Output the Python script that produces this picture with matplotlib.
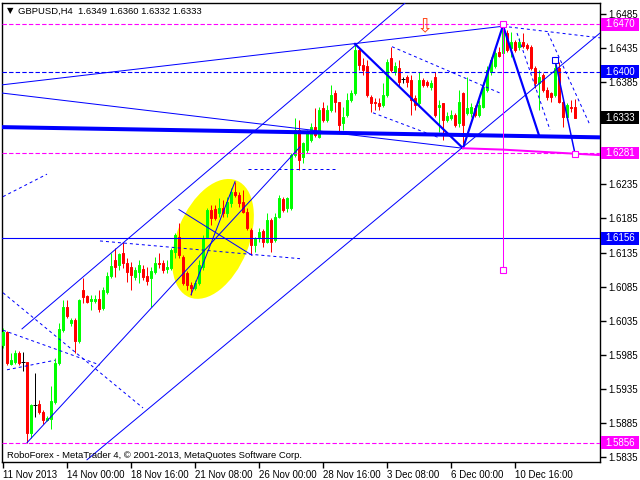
import numpy as np
import matplotlib.pyplot as plt
from matplotlib import transforms
from matplotlib.patches import Ellipse, Rectangle

plt.rcParams['font.family'] = ['Liberation Sans', 'DejaVu Sans']

# GBPUSD H4 bars, 11 Nov 2013 08:00 .. 11 Dec 2013
opens = [1.5999, 1.6019, 1.5972, 1.5974, 1.5988, 1.5974, 1.5974, 1.5870, 1.5911, 1.5913,
         1.5901, 1.5889, 1.5891, 1.5916, 1.5973, 1.6021, 1.6055, 1.6032, 1.6036, 1.6005,
         1.6080, 1.6071, 1.6064, 1.6064, 1.6067, 1.6054, 1.6077, 1.6101, 1.6124, 1.6117,
         1.6134, 1.6120, 1.6114, 1.6099, 1.6106, 1.6111, 1.6101, 1.6098, 1.6106, 1.6120,
         1.6120, 1.6111, 1.6112, 1.6136, 1.6158, 1.6128, 1.6105, 1.6087, 1.6083, 1.6090,
         1.6114, 1.6158, 1.6197, 1.6199, 1.6193, 1.6200, 1.6193, 1.6208, 1.6224, 1.6220,
         1.6209, 1.6195, 1.6168, 1.6146, 1.6158, 1.6167, 1.6150, 1.6183, 1.6153, 1.6187,
         1.6214, 1.6200, 1.6200, 1.6278, 1.6315, 1.6275, 1.6285, 1.6300, 1.6319, 1.6304,
         1.6347, 1.6329, 1.6344, 1.6369, 1.6356, 1.6325, 1.6337, 1.6359, 1.6369, 1.6432,
         1.6410, 1.6408, 1.6363, 1.6356, 1.6354, 1.6351, 1.6366, 1.6420, 1.6400, 1.6406,
         1.6390, 1.6393, 1.6388, 1.6362, 1.6354, 1.6388, 1.6385, 1.6378, 1.6393, 1.6349,
         1.6354, 1.6329, 1.6332, 1.6337, 1.6325, 1.6369, 1.6340, 1.6340, 1.6347, 1.6337,
         1.6349, 1.6374, 1.6400, 1.6409, 1.6429, 1.6428, 1.6457, 1.6435, 1.6444, 1.6437,
         1.6444, 1.6440, 1.6437, 1.6406, 1.6384, 1.6396, 1.6374, 1.6369, 1.6366, 1.6406,
         1.6356, 1.6334, 1.6349, 1.6349]
highs = [1.6024, 1.6020, 1.5988, 1.5992, 1.5991, 1.5989, 1.5975, 1.5913, 1.5958, 1.5919,
         1.5904, 1.5895, 1.5939, 1.5980, 1.6032, 1.6065, 1.6065, 1.6039, 1.6039, 1.6067,
         1.6098, 1.6073, 1.6073, 1.6073, 1.6080, 1.6085, 1.6106, 1.6134, 1.6142, 1.6134,
         1.6150, 1.6127, 1.6121, 1.6114, 1.6124, 1.6117, 1.6114, 1.6114, 1.6128, 1.6134,
         1.6124, 1.6124, 1.6142, 1.6164, 1.6178, 1.6131, 1.6108, 1.6092, 1.6095, 1.6124,
         1.6161, 1.6200, 1.6205, 1.6205, 1.6215, 1.6212, 1.6217, 1.6230, 1.6239, 1.6224,
         1.6227, 1.6200, 1.6171, 1.6158, 1.6171, 1.6170, 1.6193, 1.6186, 1.6193, 1.6220,
         1.6217, 1.6217, 1.6281, 1.6332, 1.6329, 1.6297, 1.6315, 1.6325, 1.6347, 1.6349,
         1.6356, 1.6351, 1.6381, 1.6374, 1.6356, 1.6349, 1.6369, 1.6374, 1.6442, 1.6435,
         1.6420, 1.6418, 1.6366, 1.6362, 1.6362, 1.6384, 1.6419, 1.6437, 1.6415, 1.6418,
         1.6393, 1.6396, 1.6396, 1.6366, 1.6400, 1.6391, 1.6388, 1.6388, 1.6400, 1.6359,
         1.6354, 1.6341, 1.6344, 1.6340, 1.6374, 1.6371, 1.6393, 1.6354, 1.6351, 1.6359,
         1.6385, 1.6408, 1.6422, 1.6432, 1.6437, 1.6470, 1.6462, 1.6459, 1.6447, 1.6450,
         1.6457, 1.6442, 1.6440, 1.6409, 1.6403, 1.6398, 1.6378, 1.6371, 1.6415, 1.6415,
         1.6359, 1.6354, 1.6359, 1.6360]
lows = [1.5995, 1.5970, 1.5970, 1.5972, 1.5970, 1.5961, 1.5856, 1.5863, 1.5894, 1.5898,
        1.5883, 1.5888, 1.5876, 1.5913, 1.5970, 1.6019, 1.6039, 1.6027, 1.5988, 1.6002,
        1.6061, 1.6061, 1.6051, 1.6061, 1.6048, 1.6051, 1.6074, 1.6098, 1.6099, 1.6109,
        1.6112, 1.6092, 1.6080, 1.6095, 1.6090, 1.6095, 1.6087, 1.6055, 1.6104, 1.6112,
        1.6105, 1.6105, 1.6109, 1.6127, 1.6127, 1.6087, 1.6080, 1.6073, 1.6080, 1.6087,
        1.6109, 1.6156, 1.6175, 1.6183, 1.6187, 1.6187, 1.6187, 1.6202, 1.6217, 1.6202,
        1.6193, 1.6168, 1.6131, 1.6136, 1.6150, 1.6143, 1.6149, 1.6136, 1.6150, 1.6186,
        1.6195, 1.6195, 1.6197, 1.6275, 1.6256, 1.6266, 1.6281, 1.6297, 1.6304, 1.6303,
        1.6327, 1.6327, 1.6341, 1.6341, 1.6312, 1.6315, 1.6334, 1.6356, 1.6366, 1.6403,
        1.6396, 1.6363, 1.6341, 1.6344, 1.6344, 1.6349, 1.6363, 1.6400, 1.6396, 1.6378,
        1.6384, 1.6378, 1.6337, 1.6344, 1.6349, 1.6378, 1.6378, 1.6374, 1.6334, 1.6312,
        1.6300, 1.6327, 1.6329, 1.6319, 1.6319, 1.6288, 1.6337, 1.6334, 1.6334, 1.6334,
        1.6347, 1.6371, 1.6396, 1.6406, 1.6422, 1.6425, 1.6429, 1.6422, 1.6429, 1.6432,
        1.6435, 1.6432, 1.6403, 1.6377, 1.6344, 1.6371, 1.6359, 1.6356, 1.6363, 1.6354,
        1.6319, 1.6329, 1.6341, 1.6332]
closes = [1.6019, 1.5973, 1.5977, 1.5988, 1.5973, 1.5974, 1.5870, 1.5911, 1.5911, 1.5901,
          1.5889, 1.5892, 1.5917, 1.5973, 1.6023, 1.6055, 1.6042, 1.6036, 1.6005, 1.6065,
          1.6070, 1.6062, 1.6067, 1.6067, 1.6052, 1.6080, 1.6101, 1.6115, 1.6114, 1.6133,
          1.6120, 1.6106, 1.6102, 1.6109, 1.6117, 1.6099, 1.6093, 1.6108, 1.6120, 1.6118,
          1.6109, 1.6114, 1.6139, 1.6161, 1.6131, 1.6090, 1.6087, 1.6083, 1.6090, 1.6117,
          1.6156, 1.6197, 1.6186, 1.6186, 1.6200, 1.6193, 1.6209, 1.6224, 1.6220, 1.6208,
          1.6195, 1.6171, 1.6146, 1.6156, 1.6165, 1.6150, 1.6183, 1.6150, 1.6187, 1.6215,
          1.6197, 1.6215, 1.6278, 1.6315, 1.6271, 1.6296, 1.6310, 1.6319, 1.6307, 1.6344,
          1.6329, 1.6344, 1.6366, 1.6356, 1.6322, 1.6334, 1.6359, 1.6369, 1.6432, 1.6410,
          1.6403, 1.6366, 1.6354, 1.6354, 1.6350, 1.6366, 1.6415, 1.6403, 1.6408, 1.6385,
          1.6390, 1.6385, 1.6359, 1.6351, 1.6388, 1.6381, 1.6381, 1.6384, 1.6337, 1.6351,
          1.6329, 1.6335, 1.6337, 1.6322, 1.6356, 1.6322, 1.6347, 1.6349, 1.6337, 1.6351,
          1.6378, 1.6403, 1.6418, 1.6428, 1.6423, 1.6462, 1.6432, 1.6444, 1.6432, 1.6444,
          1.6438, 1.6435, 1.6406, 1.6384, 1.6393, 1.6374, 1.6363, 1.6363, 1.6406, 1.6356,
          1.6334, 1.6351, 1.6347, 1.6333]

time_ticks = [0, 16, 32, 48, 64, 80, 96, 112, 128]
time_labels = ['11 Nov 2013', '14 Nov 00:00', '18 Nov 16:00', '21 Nov 08:00', '26 Nov 00:00',
               '28 Nov 16:00', '3 Dec 08:00', '6 Dec 00:00', '10 Dec 16:00']

price_ticks = [1.5835, 1.5885, 1.5935, 1.5985, 1.6035, 1.6085, 1.6135, 1.6185, 1.6235,
               1.6285, 1.6335, 1.6385, 1.6435, 1.6485]
hidden_ticks = [1.6285, 1.6335]

# price levels with their axis tags
levels = [1.6470, 1.6400, 1.6281, 1.6156, 1.5856]
level_colors = ['#FF00FF', '#0000FF', '#FF00FF', '#0000FF', '#FF00FF']
level_styles = ['dashed', 'dashed', 'dashed', 'solid', 'dashed']
last_price = 1.6333

# analysis objects (bar index, price)
thick_line = [(-0.25, 1.6319), (149.25, 1.6304)]
solid_lines = [
    [(-0.25, 1.6369), (115, 1.6288)],
    [(-0.25, 1.6381), (125, 1.6467)],
    [(4.75, 1.6023), (100.5, 1.6501)],
    [(6, 1.5856), (74.25, 1.6290)],
    [(21, 1.5831), (149.25, 1.6457)],
    [(44, 1.6198), (62.25, 1.6131)],
    [(47, 1.6073), (58, 1.6239)],
]
dashed_lines = [
    [(125, 1.6467), (149.25, 1.6450)],
    [(24.25, 1.6152), (74.25, 1.6126)],
    [(0, 1.6217), (11, 1.6250)],
    [(0, 1.6021), (24.25, 1.5970)],
    [(0, 1.6076), (35, 1.5907)],
    [(1, 1.5963), (13, 1.5977)],
    [(61.25, 1.6258), (83, 1.6258)],
    [(97.25, 1.6437), (124.25, 1.6369)],
    [(92.5, 1.6340), (108.75, 1.6304)],
    [(136.25, 1.6457), (146.75, 1.6322)],
    [(128.5, 1.6457), (136.75, 1.6315)],
]
wave_line = [(88, 1.6441), (115, 1.6288), (125, 1.6468), (134, 1.6307)]
wave_line2 = [(138, 1.6418), (143, 1.6280)]
target_line = [(115, 1.6288), (125, 1.6286), (143, 1.6280), (149.25, 1.6278)]
ellipse_center = (52.5, 1.6155)

BLUE = '#0000FF'
MAG = '#FF00FF'
GREEN = '#00FF00'
RED = '#FF0000'
px = 0.72  # one pixel in points

fig = plt.figure(figsize=(6.4, 4.8), dpi=100)
ax = fig.add_axes([2 / 640, 18 / 480, 598 / 640, 459 / 480])
ax.set_xlim(-0.25, 149.25)
ax.set_ylim(1.58277, 1.65011)

# yellow ellipse in pixel units around its centre
tr = fig.dpi_scale_trans + transforms.ScaledTranslation(ellipse_center[0], ellipse_center[1], ax.transData)
ax.add_patch(Ellipse((0, 0), 1.26, 0.72, angle=68, transform=tr, facecolor='#FFFF00',
                     edgecolor='none', zorder=1))

# candles
o = np.array(opens); h = np.array(highs); l = np.array(lows); c = np.array(closes)
idx = np.arange(len(o))
cols = np.where(c > o, GREEN, np.where(c < o, RED, 'black'))
ax.vlines(idx, l, h, colors=cols, linewidth=px, zorder=3)
bottom = np.minimum(o, c)
height = np.abs(c - o)
ax.bar(idx, height, width=0.6, bottom=bottom, color=cols, edgecolor=cols,
       linewidth=px, zorder=3)
doji = c == o
ax.hlines(o[doji], idx[doji] - 0.4, idx[doji] + 0.4, colors='black', linewidth=px, zorder=3)

# horizontal levels
for lv, col, st in zip(levels, level_colors, level_styles):
    ax.axhline(lv, color=col, linewidth=px * 1.1,
               linestyle=(0, (4, 2)) if st == 'dashed' else '-', zorder=4)

xs, ys = zip(*thick_line)
ax.plot(xs, ys, color=BLUE, linewidth=4 * px, zorder=4, solid_capstyle='butt')
for seg in solid_lines:
    xs, ys = zip(*seg)
    ax.plot(xs, ys, color=BLUE, linewidth=px, zorder=4)
for seg in dashed_lines:
    xs, ys = zip(*seg)
    ax.plot(xs, ys, color=BLUE, linewidth=px, linestyle=(0, (3, 3)), zorder=4)
xs, ys = zip(*wave_line)
ax.plot(xs, ys, color=BLUE, linewidth=2.2 * px, zorder=5)
xs, ys = zip(*wave_line2)
ax.plot(xs, ys, color=BLUE, linewidth=1.5 * px, zorder=5)
xs, ys = zip(*target_line)
ax.plot(xs, ys, color=MAG, linewidth=2 * px, zorder=5)
ax.plot([125, 125], [1.6470, 1.6109], color=MAG, linewidth=px, zorder=5)
ax.plot([125, 125, 143], [1.6470, 1.6109, 1.6280], linestyle='none', marker='s',
        markersize=4, markerfacecolor='white', markeredgecolor=MAG, markeredgewidth=0.8, zorder=6)
ax.plot([138], [1.6418], linestyle='none', marker='s', markersize=4,
        markerfacecolor='white', markeredgecolor=BLUE, markeredgewidth=0.8, zorder=6)
ax.text(105.5, 1.6466, '\u21e9', color='#FF4010', fontsize=14, ha='center', va='center',
        family='DejaVu Sans', zorder=6)

# axes styling
for s in ax.spines.values():
    s.set_linewidth(1)
    s.set_color('black')
ax.yaxis.tick_right()
ax.set_yticks(price_ticks)
ax.set_yticklabels(['' if v in hidden_ticks else '%.4f' % v for v in price_ticks])
ax.tick_params(axis='y', direction='out', length=4, width=1, labelsize=7, pad=2)
ax.set_xticks(time_ticks)
ax.set_xticklabels(time_labels, ha='left')
ax.tick_params(axis='x', direction='out', length=4, width=1, labelsize=7, pad=2)

# price tags on the axis
blend = transforms.blended_transform_factory(fig.transFigure, ax.transData)
tags = list(zip(levels, level_colors)) + [(last_price, 'black')]
for lv, col in tags:
    fig.add_artist(Rectangle((601 / 640, lv - 0.00095), 38 / 640, 0.0019, transform=blend,
                             facecolor=col, edgecolor='none', zorder=5))
    fig.text(620 / 640, lv, '%.4f' % lv, transform=blend, color='white', fontsize=7,
             ha='center', va='center', zorder=6)

fig.text(7 / 640, 1 - 11 / 480, '\u25bc', fontsize=6, va='center', family='DejaVu Sans')
fig.text(18 / 640, 1 - 11 / 480, 'GBPUSD,H4  1.6349 1.6360 1.6332 1.6333', fontsize=6.8, va='center')
fig.text(7 / 640, 1 - 455 / 480,
         'RoboForex - MetaTrader 4, \u00a9 2001-2013, MetaQuotes Software Corp.',
         fontsize=6.8, va='center')

fig.savefig('out.png', dpi=100)
